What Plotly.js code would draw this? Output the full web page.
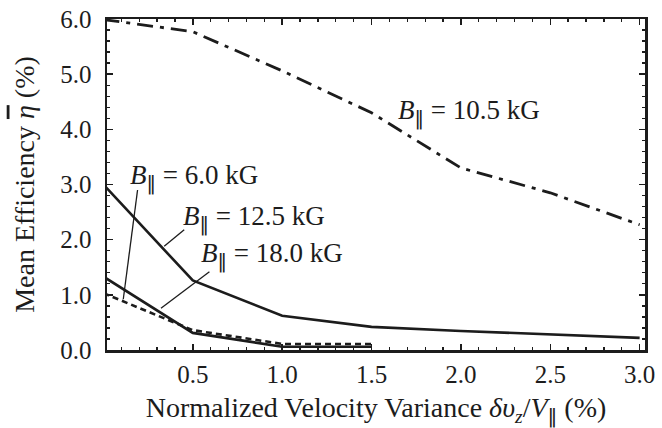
<!DOCTYPE html>
<html>
<head>
<meta charset="utf-8">
<script src="https://cdn.plot.ly/plotly-3.0.1.min.js"></script>
<style>html,body{margin:0;padding:0;background:#fff;}#chart{width:662px;height:428px;}</style>
</head>
<body>
<div id="chart"></div>
<script>
// Normalized velocity variance (%)
const xFull = [0.0, 0.5, 1.0, 1.5, 2.0, 2.5, 3.0];
const xShort = [0.0, 0.5, 1.0, 1.5];
// Mean efficiency (%)
const eff105 = [5.99, 5.77, 5.06, 4.30, 3.30, 2.85, 2.27];
const eff125 = [3.00, 1.26, 0.62, 0.42, 0.345, 0.285, 0.22];
const eff60  = [1.03, 0.36, 0.11, 0.11];
const eff180 = [1.33, 0.31, 0.06, 0.06];

const PAR = "<span style=\"font-family:'DejaVu Sans'\">‖</span>";
const seriesNames = ["B‖ = 10.5 kG", "B‖ = 12.5 kG", "B‖ = 6.0 kG", "B‖ = 18.0 kG"];
const labelText = [
  "<i>B</i><sub>" + PAR + "</sub> = 10.5 kG",
  "<i>B</i><sub>" + PAR + "</sub> = 6.0 kG",
  "<i>B</i><sub>" + PAR + "</sub> = 12.5 kG",
  "<i>B</i><sub>" + PAR + "</sub> = 18.0 kG"
];
const labelX = [1.635, 0.135, 0.434, 0.536];
const labelY = [4.30, 3.12, 2.38, 1.71];
// pointer lines: [x0, y0, x1, y1]
const pointerX0 = [0.191, 0.452, 0.593];
const pointerY0 = [2.90, 2.18, 1.42];
const pointerX1 = [0.111, 0.340, 0.322];
const pointerY1 = [0.92, 1.88, 0.757];

const ink = "#1c1c1c";
const font = "'Liberation Serif', 'Times New Roman', Times, serif";

const traces = [
  {x: xFull, y: eff105, name: seriesNames[0], mode: "lines", line: {color: ink, width: 2.8, dash: "16px,7px,4px,7px"}},
  {x: xFull, y: eff125, name: seriesNames[1], mode: "lines", line: {color: ink, width: 2.6}},
  {x: xShort, y: eff60, name: seriesNames[2], mode: "lines", line: {color: ink, width: 2.6, dash: "6px,4px"}},
  {x: xShort, y: eff180, name: seriesNames[3], mode: "lines", line: {color: ink, width: 2.6}}
];

const annotations = labelText.map((t, i) => ({
  x: labelX[i], y: labelY[i], xref: "x", yref: "y", text: t, showarrow: false,
  xanchor: "left", yanchor: "middle", font: {family: font, size: 27, color: ink}
}));

const shapes = pointerX0.map((x0, i) => ({
  type: "line", xref: "x", yref: "y", x0: x0, y0: pointerY0[i], x1: pointerX1[i], y1: pointerY1[i],
  line: {color: ink, width: 1.3}
}));

const layout = {
  width: 662, height: 428,
  margin: {l: 107, r: 17, t: 19, b: 78},
  paper_bgcolor: "#fff", plot_bgcolor: "#fff",
  showlegend: false,
  font: {family: font, size: 25, color: ink},
  xaxis: {
    range: [0.02, 3.03], tickvals: [0.5, 1.0, 1.5, 2.0, 2.5, 3.0], ticktext: ["0.5","1.0","1.5","2.0","2.5","3.0"],
    ticks: "inside", ticklen: 6, tickwidth: 1.5, tickcolor: ink,
    minor: {ticks: "inside", dtick: 0.1, ticklen: 3, tickwidth: 1.3, tickcolor: ink, showgrid: false},
    showline: true, linewidth: 2.5, linecolor: ink, mirror: "allticks", showgrid: false, zeroline: false,
    tickfont: {family: font, size: 25, color: ink},
    title: {text: "Normalized Velocity Variance <i>δυ<sub>z</sub></i>/<i>V</i><sub>" + PAR + "</sub> (%)", font: {family: font, size: 28, color: ink}, standoff: 24}
  },
  yaxis: {
    range: [0, 6.0], tickvals: [0,1,2,3,4,5,6], ticktext: ["0.0","1.0","2.0","3.0","4.0","5.0","6.0"],
    ticks: "inside", ticklen: 6, tickwidth: 1.5, tickcolor: ink, ticklabelstandoff: 8,
    minor: {ticks: "inside", dtick: 0.2, ticklen: 3, tickwidth: 1.3, tickcolor: ink, showgrid: false},
    showline: true, linewidth: 2.5, linecolor: ink, mirror: "allticks", showgrid: false, zeroline: false,
    tickfont: {family: font, size: 25, color: ink},
    title: {text: "Mean Efficiency <span style=\"text-decoration:overline\"><i>η</i></span> (%)", font: {family: font, size: 28, color: ink}, standoff: 18}
  },
  annotations: annotations,
  shapes: shapes
};

Plotly.newPlot("chart", traces, layout, {staticPlot: true, displayModeBar: false});
</script>
</body>
</html>
